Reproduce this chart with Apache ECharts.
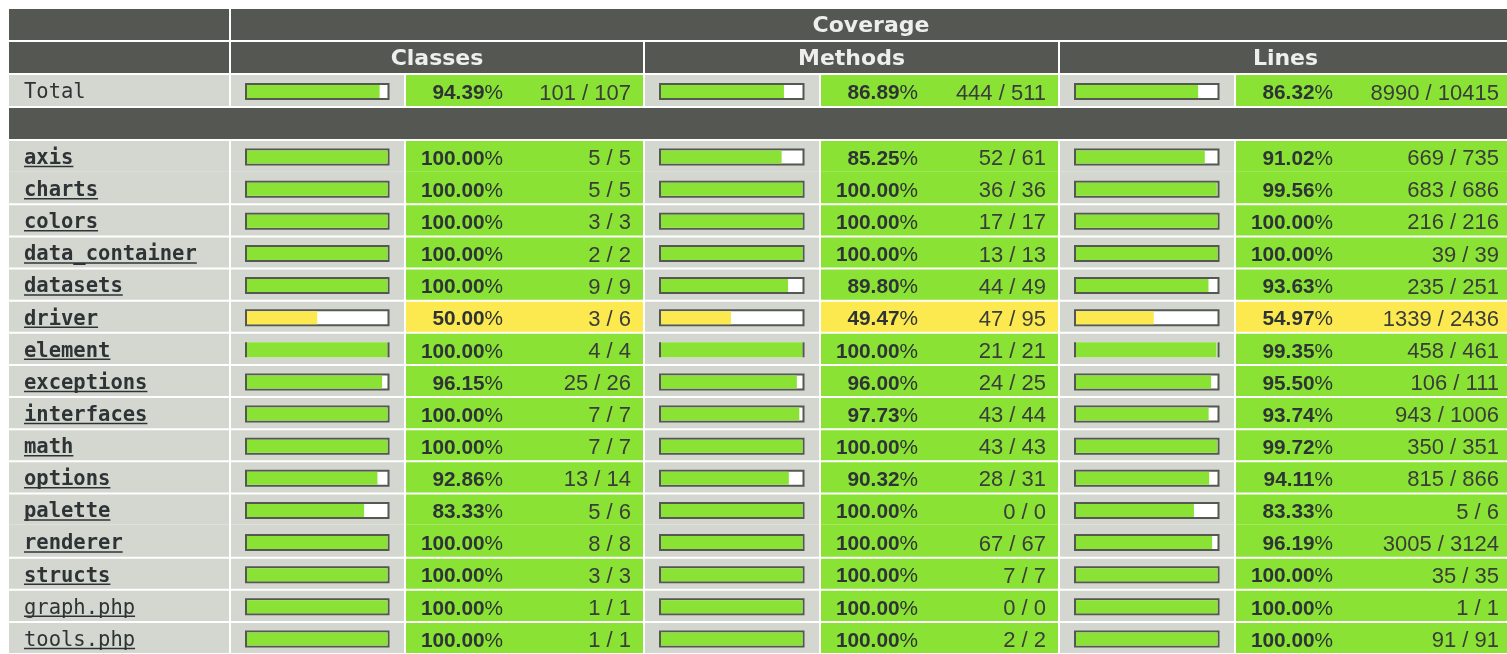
<!DOCTYPE html>
<html>
<head>
<meta charset="utf-8">
<title>Code Coverage</title>
<script src="https://cdn.jsdelivr.net/npm/echarts@6/dist/echarts.min.js"></script>
<style>
    html, body { margin: 0; padding: 0; background: #fff; }
    #coverage { width: 1507px; height: 654px; }
</style>
</head>
<body>
<div id="coverage"></div>
<script>
// ------------------------------
// Coverage data
// ------------------------------
var rowNames = ['axis', 'charts', 'colors', 'data_container', 'datasets', 'driver', 'element',
    'exceptions', 'interfaces', 'math', 'options', 'palette', 'renderer', 'structs',
    'graph.php', 'tools.php'];
var classesCovered = [5, 5, 3, 2, 9, 3, 4, 25, 7, 7, 13, 5, 8, 3, 1, 1];
var classesTotal   = [5, 5, 3, 2, 9, 6, 4, 26, 7, 7, 14, 6, 8, 3, 1, 1];
var methodsCovered = [52, 36, 17, 13, 44, 47, 21, 24, 43, 43, 28, 0, 67, 7, 0, 2];
var methodsTotal   = [61, 36, 17, 13, 49, 95, 21, 25, 44, 43, 31, 0, 67, 7, 0, 2];
var linesCovered   = [669, 683, 216, 39, 235, 1339, 458, 106, 943, 350, 815, 5, 3005, 35, 1, 91];
var linesTotal     = [735, 686, 216, 39, 251, 2436, 461, 111, 1006, 351, 866, 6, 3124, 35, 1, 91];
var totalClasses = [101, 107];
var totalMethods = [444, 511];
var totalLines   = [8990, 10415];
var groupNames = ['Classes', 'Methods', 'Lines'];

// ------------------------------
// Layout / style
// ------------------------------
var colEdges = [0, 222, 397, 636, 812, 1051, 1227, 1504];   // x axis units = px from table left
var mergedWithAbove = ['charts', 'renderer'];               // rows drawn without a top rule
var frameless = ['element'];                                // bars drawn without top/bottom frame
var DARK = '#555753', LIGHT = '#d3d7cf', GREEN = '#8ae234', YELLOW = '#fce94f', RED = '#ef2929';
var INK = '#2e3436', COUNT_INK = '#3a3d39', HEAD_INK = '#eeeeec';
var MONO = '"DejaVu Sans Mono", monospace';
var SANS = '"Liberation Sans", Arial, sans-serif';
var TEXT_DY = 2.5;

var measureCtx = document.createElement('canvas').getContext('2d');
function textWidth(str, font) {
    measureCtx.font = font;
    return measureCtx.measureText(str).width;
}

function levelColor(pct) {
    return pct >= 70 ? GREEN : (pct >= 35 ? YELLOW : RED);
}

// rows: two header rows + Total + separator, then one per package / file
var topRows = [
    { kind: 'head1' },
    { kind: 'head2' },
    { kind: 'data', name: 'Total', plain: true, stats: [totalClasses, totalMethods, totalLines] },
    { kind: 'sep' }
];
var bodyRows = rowNames.map(function (n, i) {
    return {
        kind: 'data',
        name: n,
        file: n.indexOf('.php') > 0,
        merged: mergedWithAbove.indexOf(n) >= 0,
        stats: [
            [classesCovered[i], classesTotal[i]],
            [methodsCovered[i], methodsTotal[i]],
            [linesCovered[i], linesTotal[i]]
        ]
    };
});

function cellBox(api, c0, c1, row, merged) {
    var a = api.coord([colEdges[c0], row]);
    var b = api.coord([colEdges[c1], row]);
    var h = api.size([0, 1])[1];
    var box = { x: a[0] + 1, y: a[1] - h / 2 + 1, width: b[0] - a[0] - 2, height: h - 2, cy: a[1] };
    if (merged) { box.y -= 2; box.height += 2; }
    return box;
}

function rect(box, fill) {
    return { type: 'rect', shape: { x: box.x, y: box.y, width: box.width, height: box.height }, style: { fill: fill } };
}

function renderRow(rows) {
    return function (params, api) {
        var r = rows[params.dataIndex];
        var row = api.value(1);
        var kids = [];

        if (r.kind === 'sep') {
            kids.push(rect(cellBox(api, 0, 7, row), DARK));
        } else if (r.kind === 'head1' || r.kind === 'head2') {
            kids.push(rect(cellBox(api, 0, 1, row), DARK));
            var spans = r.kind === 'head1' ? [[1, 7, 'Coverage']] :
                groupNames.map(function (g, k) { return [1 + 2 * k, 3 + 2 * k, g]; });
            spans.forEach(function (s) {
                var box = cellBox(api, s[0], s[1], row);
                kids.push(rect(box, DARK));
                kids.push({
                    type: 'text',
                    style: {
                        x: box.x + box.width / 2, y: box.cy + 2, text: s[2], fill: HEAD_INK,
                        font: 'bold 22px "DejaVu Sans", sans-serif', align: 'center', verticalAlign: 'middle'
                    }
                });
            });
        } else {
            var nameBox = cellBox(api, 0, 1, row, r.merged);
            var cy = api.coord([0, row])[1];
            kids.push(rect(nameBox, LIGHT));
            var nameFont = (r.file || r.plain ? '' : 'bold ') + '20.5px ' + MONO;
            kids.push({
                type: 'text',
                style: { x: nameBox.x + 15, y: cy + TEXT_DY, text: r.name, fill: INK, font: nameFont, verticalAlign: 'middle' }
            });
            if (!r.plain) {
                kids.push({
                    type: 'line',
                    shape: { x1: nameBox.x + 15, y1: cy + 10.5, x2: nameBox.x + 15 + textWidth(r.name, nameFont), y2: cy + 10.5 },
                    style: { stroke: INK, lineWidth: 1.4 }
                });
            }

            r.stats.forEach(function (s, g) {
                var pct = s[1] === 0 ? 100 : s[0] / s[1] * 100;
                var color = levelColor(pct);
                var barCell = cellBox(api, 1 + 2 * g, 2 + 2 * g, row, r.merged);
                var pctCell = cellBox(api, 2 + 2 * g, 3 + 2 * g, row, r.merged);
                kids.push(rect(barCell, LIGHT));
                kids.push(rect(pctCell, color));

                // progress bar placed on the x axis
                var x0 = colEdges[1 + 2 * g] + 16, x1 = colEdges[2 + 2 * g] - 16.5;
                var p0 = api.coord([x0, row]), p1 = api.coord([x1, row]);
                var pf = api.coord([x0 + 1 + (x1 - x0 - 2) * pct / 100, row]);
                var top = p0[1] - 6.5, hgt = 15;
                if (frameless.indexOf(r.name) >= 0) {
                    kids.push({ type: 'rect', shape: { x: p0[0], y: top, width: p1[0] - p0[0], height: hgt }, style: { fill: '#fff' } });
                    kids.push({ type: 'rect', shape: { x: p0[0], y: top, width: pf[0] - p0[0], height: hgt }, style: { fill: color } });
                    kids.push({ type: 'line', shape: { x1: p0[0], y1: top, x2: p0[0], y2: top + hgt }, style: { stroke: DARK, lineWidth: 2 } });
                    kids.push({ type: 'line', shape: { x1: p1[0], y1: top, x2: p1[0], y2: top + hgt }, style: { stroke: DARK, lineWidth: 2 } });
                } else {
                    kids.push({ type: 'rect', shape: { x: p0[0], y: top, width: p1[0] - p0[0], height: hgt }, style: { fill: '#fff', stroke: DARK, lineWidth: 2 } });
                    kids.push({ type: 'rect', shape: { x: p0[0] + 1, y: top + 1, width: pf[0] - p0[0] - 1, height: hgt - 2 }, style: { fill: color } });
                }

                kids.push({
                    type: 'text',
                    style: {
                        x: pctCell.x + 97, y: cy + TEXT_DY + 0.5, align: 'right', verticalAlign: 'middle',
                        text: '{b|' + pct.toFixed(2) + '}{r|%}',
                        rich: {
                            b: { font: 'bold 20.8px ' + SANS, fill: INK },
                            r: { font: '20.8px ' + SANS, fill: INK }
                        }
                    }
                });
                kids.push({
                    type: 'text',
                    style: {
                        x: pctCell.x + pctCell.width - 12, y: cy + TEXT_DY + 0.5, align: 'right', verticalAlign: 'middle',
                        text: s[0] + ' / ' + s[1], fill: COUNT_INK, font: '22px ' + SANS
                    }
                });
            });
        }
        return { type: 'group', children: kids };
    };
}

var myChart = echarts.init(document.getElementById('coverage'));

var option = {
    animation: false,
    grid: [
        { left: 8, top: 8, right: 0, height: 132 },
        { left: 8, top: 140, right: 0, height: 518.4 }
    ],
    // grid is 1499px wide; the last column runs past the window edge (clip off)
    xAxis: [
        { gridIndex: 0, type: 'value', min: 0, max: 1499, show: false },
        { gridIndex: 1, type: 'value', min: 0, max: 1499, show: false }
    ],
    yAxis: [
        { gridIndex: 0, type: 'category', inverse: true, show: false, data: ['coverage', 'groups', 'Total', 'sep'] },
        { gridIndex: 1, type: 'category', inverse: true, show: false, data: rowNames }
    ],
    series: [
        {
            type: 'custom', xAxisIndex: 0, yAxisIndex: 0, clip: false,
            renderItem: renderRow(topRows),
            data: topRows.map(function (r, i) { return [0, i]; })
        },
        {
            type: 'custom', xAxisIndex: 1, yAxisIndex: 1, clip: false,
            renderItem: renderRow(bodyRows),
            data: bodyRows.map(function (r, i) { return [0, i]; })
        }
    ]
};
myChart.setOption(option);
</script>
</body>
</html>
